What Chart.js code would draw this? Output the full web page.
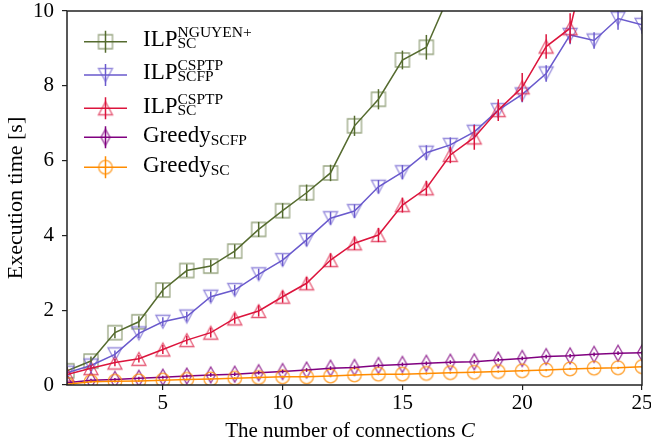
<!DOCTYPE html>
<html>
<head>
<meta charset="utf-8">
<script src="https://cdn.jsdelivr.net/npm/chart.js@4/dist/chart.umd.min.js"></script>
<style>
  html, body { margin: 0; padding: 0; background: #fff; }
  #wrap { position: relative; width: 651px; height: 443px; }
  canvas { display: block; }
  .lbl { position: absolute; left: 143px; font-family: 'Liberation Serif', serif; font-size: 23px; line-height: 23px; color: #000; white-space: nowrap; }
  .sc { display: inline-block; position: relative; font-size: 15.5px; line-height: 15.5px; }
  .sc .u { position: relative; top: -9.3px; }
  .sc .d { position: absolute; left: 0; top: 2.3px; }
  .sb { position: relative; top: 2.5px; font-size: 15.5px; line-height: 15.5px; }
  #xtitle { position: absolute; left: 150px; width: 400px; top: 420px; text-align: center; font-family: 'Liberation Serif', serif; font-size: 21px; line-height: 21px; color: #000; }
</style>
</head>
<body>
<div id="wrap">
  <canvas id="chart" width="651" height="443"></canvas>
  <div class="lbl" style="top:27px">ILP<span class="sc"><span class="u">NGUYEN+</span><span class="d">SC</span></span></div>
  <div class="lbl" style="top:60px">ILP<span class="sc"><span class="u">CSPTP</span><span class="d">SCFP</span></span></div>
  <div class="lbl" style="top:94px">ILP<span class="sc"><span class="u">CSPTP</span><span class="d">SC</span></span></div>
  <div class="lbl" style="top:123px">Greedy<span class="sb">SCFP</span></div>
  <div class="lbl" style="top:153px">Greedy<span class="sb">SC</span></div>
  <div id="xtitle">The number of connections <i>C</i></div>
</div>
<script>
// number of connections C
const connections = [1, 2, 3, 4, 5, 6, 7, 8, 9, 10, 11, 12, 13, 14, 15, 16, 17, 18, 19, 20, 21, 22, 23, 24, 25];

// execution times [s] (series that leave the plot stop at their last point)
const ilpNguyenSc = [0.38, 0.64, 1.40, 1.69, 2.54, 3.06, 3.18, 3.58, 4.16, 4.66, 5.14, 5.67, 6.93, 7.64, 8.69, 9.03, 10.5];
const ilpCsptpScfp = [0.33, 0.52, 0.82, 1.38, 1.69, 1.83, 2.36, 2.54, 2.96, 3.34, 3.88, 4.46, 4.65, 5.30, 5.69, 6.21, 6.42, 6.77, 7.35, 7.77, 8.33, 9.36, 9.21, 9.80, 9.63];
const ilpCsptpSc = [0.28, 0.45, 0.60, 0.70, 0.95, 1.20, 1.40, 1.78, 1.98, 2.36, 2.72, 3.34, 3.79, 4.01, 4.81, 5.26, 6.15, 6.62, 7.35, 7.96, 9.05, 9.54, 12.2];
const greedyScfp = [0.06, 0.13, 0.15, 0.18, 0.21, 0.24, 0.27, 0.29, 0.33, 0.36, 0.40, 0.45, 0.47, 0.52, 0.55, 0.58, 0.61, 0.62, 0.67, 0.71, 0.76, 0.78, 0.82, 0.85, 0.86];
const greedySc = [0.02, 0.09, 0.10, 0.11, 0.13, 0.15, 0.16, 0.18, 0.20, 0.22, 0.22, 0.24, 0.27, 0.29, 0.29, 0.31, 0.33, 0.34, 0.36, 0.38, 0.40, 0.43, 0.45, 0.46, 0.49];

// half error bars [s]
const errNguyenSc = [0.10, 0.12, 0.15, 0.15, 0.18, 0.17, 0.17, 0.18, 0.20, 0.20, 0.22, 0.22, 0.27, 0.27, 0.25, 0.33, 0.35];
const errCsptpScfp = [0.08, 0.08, 0.10, 0.12, 0.12, 0.13, 0.14, 0.14, 0.15, 0.16, 0.17, 0.17, 0.18, 0.18, 0.19, 0.20, 0.20, 0.20, 0.21, 0.21, 0.22, 0.25, 0.22, 0.30, 0.24];
const errCsptpSc = [0.08, 0.08, 0.10, 0.10, 0.12, 0.12, 0.13, 0.14, 0.15, 0.16, 0.17, 0.18, 0.18, 0.19, 0.20, 0.20, 0.22, 0.33, 0.29, 0.38, 0.33, 0.40, 0.40];
const errGreedyScfp = [0.04, 0.04, 0.04, 0.04, 0.04, 0.04, 0.05, 0.05, 0.05, 0.05, 0.05, 0.05, 0.05, 0.05, 0.05, 0.05, 0.05, 0.05, 0.05, 0.05, 0.05, 0.05, 0.05, 0.05, 0.05];
const errGreedySc = [0.03, 0.03, 0.03, 0.03, 0.03, 0.03, 0.03, 0.03, 0.03, 0.03, 0.03, 0.03, 0.03, 0.03, 0.03, 0.03, 0.03, 0.03, 0.03, 0.03, 0.03, 0.03, 0.03, 0.03, 0.03];

const xTicks = [5, 10, 15, 20, 25];
const yTicks = [0, 2, 4, 6, 8, 10];

Chart.defaults.font.family = "'Liberation Serif', serif";
Chart.defaults.font.size = 21;
Chart.defaults.color = '#000';

// hollow marker drawn once into a small canvas
function makeMarker(shape, color) {
  const c = document.createElement('canvas');
  c.width = 20; c.height = 20;
  const g = c.getContext('2d');
  g.strokeStyle = color;
  g.lineWidth = 1.3;
  g.beginPath();
  if (shape === 'square') {
    g.rect(3, 3, 14, 14);
  } else if (shape === 'up') {
    g.moveTo(10, 3.5); g.lineTo(17, 16.5); g.lineTo(3, 16.5); g.closePath();
  } else if (shape === 'down') {
    g.moveTo(10, 16.5); g.lineTo(17, 3.5); g.lineTo(3, 3.5); g.closePath();
  } else if (shape === 'diamond') {
    g.moveTo(10, 2); g.lineTo(14.5, 10); g.lineTo(10, 18); g.lineTo(5.5, 10); g.closePath();
  } else {
    g.arc(10, 10, 6.8, 0, Math.PI * 2);
  }
  g.stroke();
  return c;
}

function pts(values) {
  return values.map((v, i) => ({ x: connections[i], y: v }));
}

const series = [
  { values: ilpNguyenSc, errs: errNguyenSc, color: '#556b2f', mark: 'rgba(85,107,47,0.6)', shape: 'square' },
  { values: ilpCsptpScfp, errs: errCsptpScfp, color: '#6a5acd', mark: 'rgba(106,90,205,0.7)', shape: 'down' },
  { values: ilpCsptpSc, errs: errCsptpSc, color: '#dc143c', mark: 'rgba(220,20,60,0.7)', shape: 'up' },
  { values: greedyScfp, errs: errGreedyScfp, color: '#800080', mark: 'rgba(128,0,128,0.8)', shape: 'diamond' },
  { values: greedySc, errs: errGreedySc, color: '#ff8c00', mark: 'rgba(255,140,0,0.8)', shape: 'circle' }
];
series.forEach(s => { s.img = makeMarker(s.shape, s.mark); });

const legendRows = [41.7, 75, 108.3, 137.3, 167.3];

const errorBars = {
  id: 'errorBars',
  afterDatasetsDraw(chart) {
    const { ctx, chartArea: a, scales: { y } } = chart;
    ctx.save();
    ctx.beginPath();
    ctx.rect(a.left, a.top, a.right - a.left, a.bottom - a.top);
    ctx.clip();
    chart.data.datasets.forEach((ds, di) => {
      const meta = chart.getDatasetMeta(di);
      ctx.strokeStyle = ds.borderColor;
      ctx.lineWidth = 1.5;
      meta.data.forEach((p, i) => {
        const v = ds.data[i].y, e = ds.errs[i];
        ctx.beginPath();
        ctx.moveTo(p.x, y.getPixelForValue(v - e));
        ctx.lineTo(p.x, y.getPixelForValue(v + e));
        ctx.stroke();
      });
    });
    ctx.restore();

    // frame
    ctx.save();
    ctx.strokeStyle = '#222';
    ctx.lineWidth = 1.5;
    ctx.strokeRect(a.left, a.top, a.right - a.left, a.bottom - a.top);
    ctx.restore();

    // legend handles
    ctx.save();
    series.forEach((s, i) => {
      const ly = legendRows[i];
      ctx.strokeStyle = s.color;
      ctx.lineWidth = 1.5;
      ctx.beginPath();
      ctx.moveTo(84, ly); ctx.lineTo(127, ly);
      ctx.moveTo(105.5, ly - 11); ctx.lineTo(105.5, ly + 11);
      ctx.stroke();
      ctx.drawImage(s.img, 105.5 - 10, ly - 10);
    });
    ctx.restore();
  }
};

new Chart(document.getElementById('chart'), {
  type: 'line',
  data: {
    datasets: series.map((s, i) => ({
      data: pts(s.values),
      errs: s.errs,
      borderColor: s.color,
      borderWidth: 1.5,
      pointStyle: s.img,
      pointRadius: 7,
      fill: false,
      tension: 0,
      clip: 0,
      order: 5 - i
    }))
  },
  options: {
    responsive: false,
    animation: false,
    events: [],
    layout: { padding: { top: 11, right: 9, left: 0, bottom: 0 } },
    plugins: { legend: { display: false }, tooltip: { enabled: false } },
    scales: {
      x: {
        type: 'linear',
        min: 1,
        max: 25,
        afterBuildTicks: s => { s.ticks = xTicks.map(v => ({ value: v })); },
        afterFit: s => { s.height = 58; s.paddingLeft = 0; s.paddingRight = 0; },
        ticks: { padding: 1, maxRotation: 0, autoSkip: false },
        grid: { drawOnChartArea: false, drawTicks: true, tickLength: 5, color: '#222', lineWidth: 1.2 },
        border: { display: false }
      },
      y: {
        min: 0,
        max: 10,
        afterBuildTicks: s => { s.ticks = yTicks.map(v => ({ value: v })); },
        afterFit: s => { s.width = 67; s.paddingTop = 0; s.paddingBottom = 0; },
        ticks: { padding: 8 },
        grid: { drawOnChartArea: false, drawTicks: true, tickLength: 5, color: '#222', lineWidth: 1.2 },
        border: { display: false },
        title: { display: true, text: 'Execution time [s]', font: { size: 22 }, padding: { top: 3, bottom: 0 } }
      }
    }
  },
  plugins: [errorBars]
});
</script>
</body>
</html>
